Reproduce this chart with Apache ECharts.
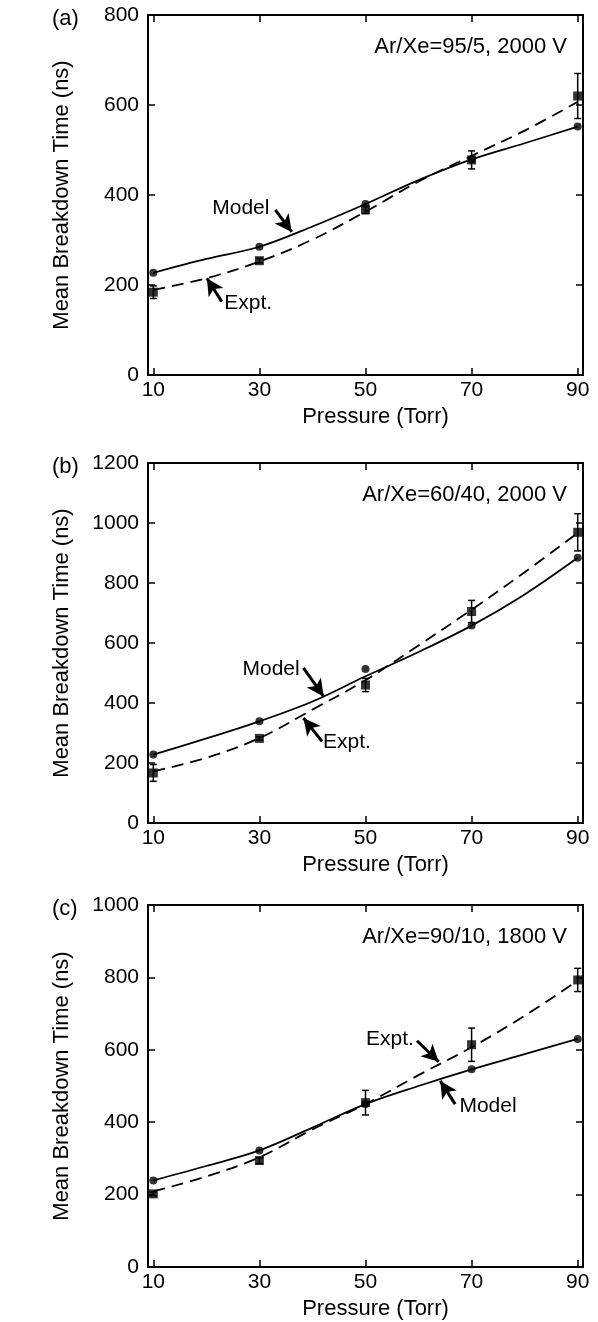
<!DOCTYPE html>
<html><head><meta charset="utf-8">
<script src="https://cdn.jsdelivr.net/npm/echarts@6/dist/echarts.min.js"></script>
<style>html,body{margin:0;padding:0;background:#fff}#c{width:598px;height:1322px}</style>
</head><body><div id="c"></div>
<script>
// ---- data ----
const pressureTicks = [10, 30, 50, 70, 90];
const pointPressure = [10, 30, 50, 70, 90];
const curvePressure = [10, 20, 30, 40, 50, 60, 70, 80, 90];
const panelLabels = ['(a)', '(b)', '(c)'];
const conditionLabels = ['Ar/Xe=95/5, 2000 V', 'Ar/Xe=60/40, 2000 V', 'Ar/Xe=90/10, 1800 V'];
const yMaxes = [800, 1200, 1000];

// panel (a)
const modelA = [227, 285, 380, 479, 552];
const exptA = [184, 254, 367, 478, 620];
const exptErrA = [14, 5, 8, 20, 50];
const modelCurveA = [227, 258, 285, 330, 380, 433, 479, 515, 552];
const exptCurveA = [189, 215, 252, 301, 363, 430, 487, 543, 607];
// panel (b)
const modelB = [228, 339, 513, 658, 884];
const exptB = [167, 282, 460, 705, 969];
const exptErrB = [28, 5, 22, 37, 62];
const modelCurveB = [228, 282, 339, 405, 489, 570, 658, 762, 884];
const exptCurveB = [172, 217, 283, 378, 476, 592, 711, 836, 967];
// panel (c)
const modelC = [239, 322, 450, 546, 630];
const exptC = [202, 294, 454, 614, 793];
const exptErrC = [5, 8, 34, 46, 32];
const modelCurveC = [239, 279, 322, 385, 450, 500, 546, 588, 630];
const exptCurveC = [209, 250, 303, 380, 450, 530, 607, 694, 791];

// annotation arrows [tail, tip] and label anchors (data coords)
const modelArrows = [[[33, 367], [36.1, 318]], [[38.3, 517], [42.1, 422]], [[66.9, 450], [64.1, 514]]];
const exptArrows = [[[22.9, 163], [20.1, 215]], [[41.8, 272], [38.3, 350]], [[59.7, 625], [63.8, 567]]];
const modelLabelPos = [[26.5, 371], [32.2, 514], [73.1, 445]];
const exptLabelPos = [[27.9, 160], [46.5, 268], [54.6, 630]];

const panels = [
  {model: modelA, expt: exptA, err: exptErrA, mc: modelCurveA, ec: exptCurveA},
  {model: modelB, expt: exptB, err: exptErrB, mc: modelCurveB, ec: exptCurveB},
  {model: modelC, expt: exptC, err: exptErrC, mc: modelCurveC, ec: exptCurveC}
];

// ---- chart ----
const FONT = 'Liberation Sans, Arial, Helvetica, sans-serif';
const FS = 21;
const FS_T = 22;
const gridTops = [15, 463, 905];
const gridHeights = [360, 360, 362];
const zip = (xs, ys) => xs.map((x, i) => [x, ys[i]]);

const grid = [], xAxis = [], yAxis = [], series = [], title = [];
const axisLineStyle = {show: true, onZero: false, lineStyle: {color: '#000', width: 2}};

panels.forEach((p, i) => {
  grid.push({left: 148, right: 15, top: gridTops[i], height: gridHeights[i], containLabel: false});
  const xBase = {
    gridIndex: i, type: 'value', min: 9, max: 91,
    axisLine: axisLineStyle,
    axisTick: {show: true, inside: true, length: 7, customValues: pressureTicks, lineStyle: {color: '#000', width: 1.5}},
    splitLine: {show: false}
  };
  xAxis.push(Object.assign({}, xBase, {
    position: 'bottom',
    axisLabel: {show: true, customValues: pressureTicks, color: '#000', fontSize: FS, fontFamily: FONT, margin: 5},
    name: 'Pressure (Torr)', nameLocation: 'middle', nameGap: 31,
    nameTextStyle: {color: '#000', fontSize: FS_T, fontFamily: FONT, padding: [0, 0, 0, 20]}
  }));
  xAxis.push(Object.assign({}, xBase, {position: 'top', axisLabel: {show: false}}));
  const yBase = {
    gridIndex: i, type: 'value', min: 0, max: yMaxes[i], interval: 200,
    axisLine: axisLineStyle,
    axisTick: {show: true, inside: true, length: 7, lineStyle: {color: '#000', width: 1.5}},
    splitLine: {show: false}
  };
  yAxis.push(Object.assign({}, yBase, {
    position: 'left',
    axisLabel: {show: true, color: '#000', fontSize: FS, fontFamily: FONT, margin: 9, formatter: v => String(v)},
    name: 'Mean Breakdown Time (ns)', nameLocation: 'middle', nameGap: 75,
    nameTextStyle: {color: '#000', fontSize: FS_T, fontFamily: FONT}
  }));
  yAxis.push(Object.assign({}, yBase, {position: 'right', axisLabel: {show: false}}));

  const xi = 2 * i, yi = 2 * i;
  series.push({
    type: 'line', xAxisIndex: xi, yAxisIndex: yi, data: zip(curvePressure, p.mc),
    smooth: 0.35, showSymbol: false, lineStyle: {color: '#000', width: 1.8}, silent: true, z: 2
  });
  series.push({
    type: 'line', xAxisIndex: xi, yAxisIndex: yi, data: zip(curvePressure, p.ec),
    smooth: 0.35, showSymbol: false, lineStyle: {color: '#000', width: 1.8, type: [12, 7]}, silent: true, z: 2
  });
  series.push({
    type: 'custom', xAxisIndex: xi, yAxisIndex: yi,
    data: pointPressure.map((x, k) => [x, p.expt[k] - p.err[k], p.expt[k] + p.err[k]]),
    renderItem: (params, api) => {
      const lo = api.coord([api.value(0), api.value(1)]);
      const hi = api.coord([api.value(0), api.value(2)]);
      const w = 3.5;
      const st = {stroke: '#000', lineWidth: 1.5};
      return {type: 'group', children: [
        {type: 'line', shape: {x1: lo[0], y1: lo[1], x2: hi[0], y2: hi[1]}, style: st},
        {type: 'line', shape: {x1: lo[0] - w, y1: lo[1], x2: lo[0] + w, y2: lo[1]}, style: st},
        {type: 'line', shape: {x1: hi[0] - w, y1: hi[1], x2: hi[0] + w, y2: hi[1]}, style: st}
      ]};
    },
    clip: false, silent: true, z: 3
  });
  series.push({
    type: 'scatter', xAxisIndex: xi, yAxisIndex: yi, data: zip(pointPressure, p.model),
    symbol: 'circle', symbolSize: 8, itemStyle: {color: '#000'}, silent: true, z: 4,
    markLine: {
      silent: true, symbol: ['none', 'arrow'], symbolSize: [13, 17],
      lineStyle: {color: '#000', width: 3, type: 'solid'}, label: {show: false},
      data: [
        [{coord: modelArrows[i][0]}, {coord: modelArrows[i][1]}],
        [{coord: exptArrows[i][0]}, {coord: exptArrows[i][1]}]
      ]
    },
    markPoint: {
      silent: true, symbol: 'circle', symbolSize: 1, itemStyle: {color: 'rgba(0,0,0,0)'},
      label: {show: true, position: 'inside', color: '#000', fontSize: FS, fontFamily: FONT, formatter: d => d.name},
      data: [
        {name: 'Model', coord: modelLabelPos[i]},
        {name: 'Expt.', coord: exptLabelPos[i]}
      ]
    }
  });
  series.push({
    type: 'scatter', xAxisIndex: xi, yAxisIndex: yi, data: zip(pointPressure, p.expt),
    symbol: 'rect', symbolSize: 9, itemStyle: {color: '#000'}, silent: true, z: 4, clip: false
  });

  title.push({text: panelLabels[i], left: 47, top: gridTops[i] - 12,
    textStyle: {color: '#000', fontSize: FS_T, fontWeight: 'normal', fontFamily: FONT}});
  title.push({text: conditionLabels[i], right: 26, top: gridTops[i] + 16,
    textStyle: {color: '#000', fontSize: FS_T, fontWeight: 'normal', fontFamily: FONT}});
});

const chart = echarts.init(document.getElementById('c'), null, {renderer: 'canvas'});
chart.setOption({
  backgroundColor: '#fff', animation: false,
  title, grid, xAxis, yAxis, series
});
</script></body></html>
